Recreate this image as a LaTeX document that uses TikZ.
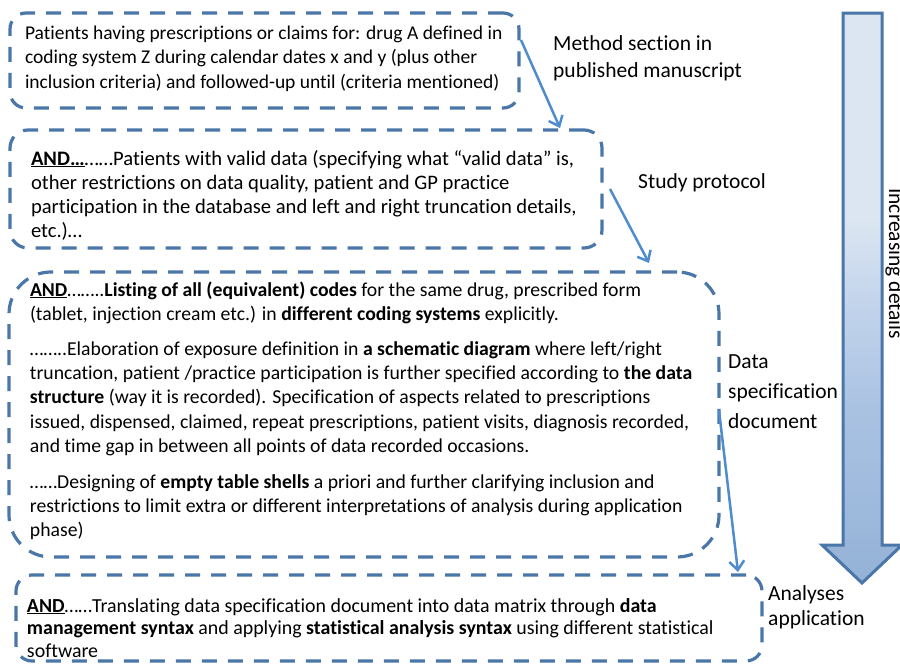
\documentclass[tikz,border=0pt]{standalone}
\usepackage{fontspec}
\setmainfont{Carlito}[Ligatures=NoCommon]
\usetikzlibrary{arrows.meta,calc}

\definecolor{panelblue}{HTML}{4A76A8}
\definecolor{linkblue}{HTML}{4F8CCD}
\definecolor{fadebot}{HTML}{94B2D7}
\definecolor{fadelow}{HTML}{A9C2E2}
\definecolor{fademid}{HTML}{C4D5EC}
\definecolor{fadetop}{HTML}{DCE6F2}

% vertical fill of the "increasing details" arrow (path box spans 25bp..75bp)
\pgfdeclareverticalshading{detailfade}{100bp}{%
  color(0bp)=(fadebot); color(25bp)=(fadebot); color(40bp)=(fadelow);
  color(50bp)=(fademid); color(57bp)=(fadetop); color(100bp)=(fadetop)}

% struts fixing the top of the first line of each text block
\newcommand\bodystrut{\rule{0pt}{16pt}}
\newcommand\sidestrut{\rule{0pt}{18pt}}

\begin{document}
\begin{tikzpicture}[x=1pt,y=-1pt,
  panel/.style={draw=panelblue, line width=3.2pt, dash pattern=on 15pt off 11pt,
    rectangle, inner sep=0pt, outer sep=0pt},
  bodytext/.style={anchor=north west, inner sep=0pt, outer sep=0pt, align=left,
    text=black},
  sidetext/.style={anchor=north west, inner sep=0pt, align=left, text=black},
  link/.style={draw=linkblue, line width=2.5pt,
    -{Straight Barb[length=9pt,width=15pt]}}]

\useasboundingbox (0,0) rectangle (900,664);

% ---- dashed stage boxes ----
\node[panel, rounded corners=16pt, minimum width=509pt, minimum height=95pt]
  (b1) at (264.5,60.5) {};
\node[panel, rounded corners=18pt, minimum width=592pt, minimum height=118pt]
  (b2) at (306,189) {};
\node[panel, rounded corners=42pt, minimum width=710pt, minimum height=285pt]
  (b3) at (364,414.5) {};
\node[panel, rounded corners=16pt, minimum width=746pt, minimum height=86pt]
  (b4) at (389,618) {};

% ---- box texts ----
\node[bodytext, font=\fontsize{19.5}{24.5}\selectfont] (t1) at (25,23) {%
\bodystrut Patients having prescriptions or claims for: drug A defined in\\
coding system Z during calendar dates x and y (plus other\\
inclusion criteria) and followed-up until (criteria mentioned)};

\node[bodytext, font=\fontsize{20.6}{24}\selectfont] (t2) at (31,149) {%
\bodystrut\underline{\textbf{AND…}}……Patients with valid data (specifying what “valid data” is,\\
other restrictions on data quality, patient and GP practice\\
participation in the database and left and right truncation details,\\
etc.)…};

\node[bodytext, font=\fontsize{19.7}{24.2}\selectfont] (t3) at (30,280) {%
\bodystrut\underline{\textbf{AND}}……..\textbf{Listing of all (equivalent) codes} for the same drug, prescribed form\\
(tablet, injection cream etc.) in \textbf{different coding systems} explicitly.\\[11pt]
……..Elaboration of exposure definition in \textbf{a schematic diagram} where left/right\\
truncation, patient /practice participation is further specified according to \textbf{the data}\\
\textbf{structure} (way it is recorded). Specification of aspects related to prescriptions\\
issued, dispensed, claimed, repeat prescriptions, patient visits, diagnosis recorded,\\
and time gap in between all points of data recorded occasions.\\[12pt]
……Designing of \textbf{empty table shells} a priori and further clarifying inclusion and\\
restrictions to limit extra or different interpretations of analysis during application\\
phase)};

\node[bodytext, font=\fontsize{19.9}{22.5}\selectfont] (t4) at (27,596) {%
\bodystrut\underline{\textbf{AND}}……Translating data specification document into data matrix through \textbf{data}\\
\textbf{management syntax} and applying \textbf{statistical analysis syntax} using different statistical\\
software};

% ---- stage labels ----
\node[sidetext, font=\fontsize{21.5}{27}\selectfont] (l1) at (553,32)
  {\sidestrut Method section in\\published manuscript};
\node[sidetext, font=\fontsize{21.5}{27}\selectfont] (l2) at (638,170)
  {\sidestrut Study protocol};
\node[sidetext, font=\fontsize{21.5}{30}\selectfont] (l3) at (728,350)
  {\sidestrut Data\\specification\\document};
\node[sidetext, font=\fontsize{21.5}{25}\selectfont] (l4) at (768,582)
  {\sidestrut Analyses\\application};

% ---- connectors between stages ----
\draw[link] ($(b1.north east)+(2,27)$) -- ($(b2.north west)+(550,-2)$);
\draw[link] ($(b2.east)+(8,0)$) -- ($(b3.north west)+(640,-9)$);
\draw[link] ($(b3.east)+(0,-4)$) -- ($(b4.north east)+(-24,-3)$);

% ---- increasing-detail arrow ----
\path[shading=detailfade, draw=panelblue, line width=3pt, line join=miter]
  (843,13) -- (882,13) -- (882,545) -- (902,545) -- (862,583)
  -- (822,545) -- (843,545) -- cycle;
\node[rotate=-90, anchor=base west, inner sep=0pt,
  font=\fontsize{21.5}{26}\selectfont] (inc) at (889,188) {Increasing details};

\end{tikzpicture}
\end{document}
